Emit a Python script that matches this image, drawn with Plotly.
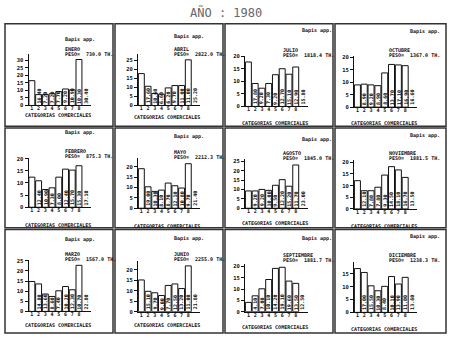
import plotly.graph_objects as go

# ---------------- data ----------------
months = ["ENERO", "FEBRERO", "MARZO", "ABRIL", "MAYO", "JUNIO",
          "JULIO", "AGOSTO", "SEPTIEMBRE", "OCTUBRE", "NOVIEMBRE", "DICIEMBRE"]
peso = ["730.0", "875.3", "1567.0", "2822.0", "2212.3", "2255.0",
        "1818.4", "1845.0", "1881.7", "1367.0", "1881.5", "1238.3"]
categories = ["1", "2", "3", "4", "5", "6", "7", "8"]

enero = [16.4, 7.2, 7.2, 7.7, 9.2, 10.9, 10.3, 30.4]
febrero = [12.4, 10.9, 7.3, 8.0, 12.4, 15.7, 15.3, 17.1]
marzo = [14.8, 13.6, 8.6, 7.4, 10.2, 12.3, 10.7, 22.8]
abril = [17.6, 10.6, 6.6, 6.2, 9.7, 11.0, 11.0, 25.2]
mayo = [19.0, 10.3, 8.1, 8.7, 12.1, 10.8, 9.7, 21.4]
junio = [15.1, 9.7, 9.0, 7.7, 12.5, 13.2, 11.0, 21.8]
julio = [17.8, 9.2, 7.3, 9.2, 12.7, 15.1, 12.9, 15.8]
agosto = [9.2, 9.2, 10.0, 9.5, 12.2, 15.2, 11.7, 23.0]
septiembre = [4.1, 7.0, 10.1, 14.2, 19.1, 19.6, 13.5, 12.5]
octubre = [8.9, 9.2, 8.9, 8.6, 13.7, 17.1, 16.9, 16.6]
noviembre = [12.1, 7.8, 7.8, 9.3, 14.5, 18.1, 16.7, 13.5]
diciembre = [17.0, 15.5, 10.3, 8.4, 10.1, 13.9, 11.0, 13.6]

values = [enero, febrero, marzo, abril, mayo, junio,
          julio, agosto, septiembre, octubre, noviembre, diciembre]

# ---------------- layout geometry (pixels) ----------------
W, H = 450, 341
col_x0 = [28.5, 138, 245, 354]
col_x1 = [90.7, 200, 307.5, 417]
base_px = [[105, 208.3, 314], [105, 209.3, 314.3], [106, 209.3, 314.3], [106.7, 210, 315]]
top_px = [[53, 158.3, 261.7], [53, 158, 262.7], [54.3, 159.3, 266], [55, 160, 264]]
y_tops = [33.9, 20.3, 25.5, 28.3, 24.3, 24.2, 20.4, 26.2, 21.0, 20.4, 21.1, 19.5]

bapis_x = [63, 172, 300, 408]
bapis_y = [[38, 132, 241], [35, 137, 240], [29, 140, 240], [30, 135, 238]]
month_x = [63, 172, 281, 387]
month_y = [[48, 151, 256], [48, 152, 256], [49, 153, 257], [49, 153, 257]]
cat_x = [58, 167, 275, 384]
cat_y = [[115, 226, 328], [117, 227, 328], [123, 224, 330], [123, 227, 332]]

box_x = [(5, 113), (115, 223), (225, 333), (335, 446)]
box_y = [(22, 126), (128, 229), (231, 336)]

def px(x):
    return x / W

def py(y):
    return 1 - y / H

fig = go.Figure()
annotations = []
shapes = []
FONT = "DejaVu Sans Mono"
small = dict(family=FONT, size=5, color="#111", weight="bold")
CHAR_W = 3.0

for m in range(12):
    c, r = m // 3, m % 3
    k = m + 1
    xa = "x" if k == 1 else f"x{k}"
    ya = "y" if k == 1 else f"y{k}"
    fig.add_trace(go.Bar(
        x=categories, y=values[m], xaxis=xa, yaxis=ya,
        marker=dict(color="white", line=dict(color="#111", width=1)),
        showlegend=False, hoverinfo="skip"))
    xkey = "xaxis" if k == 1 else f"xaxis{k}"
    ykey = "yaxis" if k == 1 else f"yaxis{k}"
    fig.layout[xkey] = dict(
        domain=[px(col_x0[c]), px(col_x1[c])], anchor=ya,
        showline=True, linecolor="#111", linewidth=1, showgrid=False,
        ticks="", tickmode="array", tickvals=categories, ticktext=categories,
        ticklabelstandoff=-2,
        tickfont=dict(family=FONT, size=5, color="#111", weight="bold"),
        fixedrange=True, zeroline=False)
    fig.layout[ykey] = dict(
        domain=[py(base_px[c][r]), py(top_px[c][r])], anchor=xa,
        range=[0, y_tops[m]], dtick=5, showline=True, linecolor="#111",
        linewidth=1, showgrid=False, zeroline=False, ticks="outside",
        ticklen=3, tickcolor="#111",
        tickfont=dict(family=FONT, size=5.5, color="#111", weight="bold"))
    # value labels inside bars (vertical, reading upward from the base)
    for i, v in enumerate(values[m]):
        t = f"{v:.2f}"
        annotations.append(dict(
            x=categories[i], y=0, xref=xa, yref=ya, text=t,
            textangle=-90, showarrow=False, yanchor="middle", xanchor="center",
            yshift=len(t) * CHAR_W / 2 + 2,
            font=dict(family=FONT, size=5, color="#111", weight="bold")))
    # panel texts
    annotations.append(dict(x=px(bapis_x[c]), y=py(bapis_y[c][r]), xref="paper", yref="paper",
                            text="Bapis app.", showarrow=False, xanchor="left", yanchor="middle",
                            font=small))
    annotations.append(dict(x=px(month_x[c]), y=py(month_y[c][r]), xref="paper", yref="paper",
                            text=months[m], showarrow=False, xanchor="left", yanchor="middle",
                            font=small))
    annotations.append(dict(x=px(month_x[c]), y=py(month_y[c][r] + 5), xref="paper", yref="paper",
                            text=f"PESO=  {peso[m]} TH.", showarrow=False, xanchor="left",
                            yanchor="middle", font=small))
    annotations.append(dict(x=px(cat_x[c]), y=py(cat_y[c][r]), xref="paper", yref="paper",
                            text="CATEGORIAS COMERCIALES", showarrow=False, xanchor="center",
                            yanchor="middle", font=small))
    shapes.append(dict(type="rect", xref="paper", yref="paper",
                       x0=px(box_x[c][0]), x1=px(box_x[c][1]),
                       y0=py(box_y[r][1]), y1=py(box_y[r][0]),
                       line=dict(color="#333", width=1.5)))

annotations.append(dict(x=px(226), y=py(11), xref="paper", yref="paper", text="AÑO : 1980",
                        showarrow=False, xanchor="center", yanchor="middle",
                        font=dict(family=FONT, size=12, color="#666")))

fig.update_layout(width=W, height=H, margin=dict(l=0, r=0, t=0, b=0),
                  paper_bgcolor="white", plot_bgcolor="white",
                  bargap=0.12, annotations=annotations, shapes=shapes)

fig.write_html("out.html")
